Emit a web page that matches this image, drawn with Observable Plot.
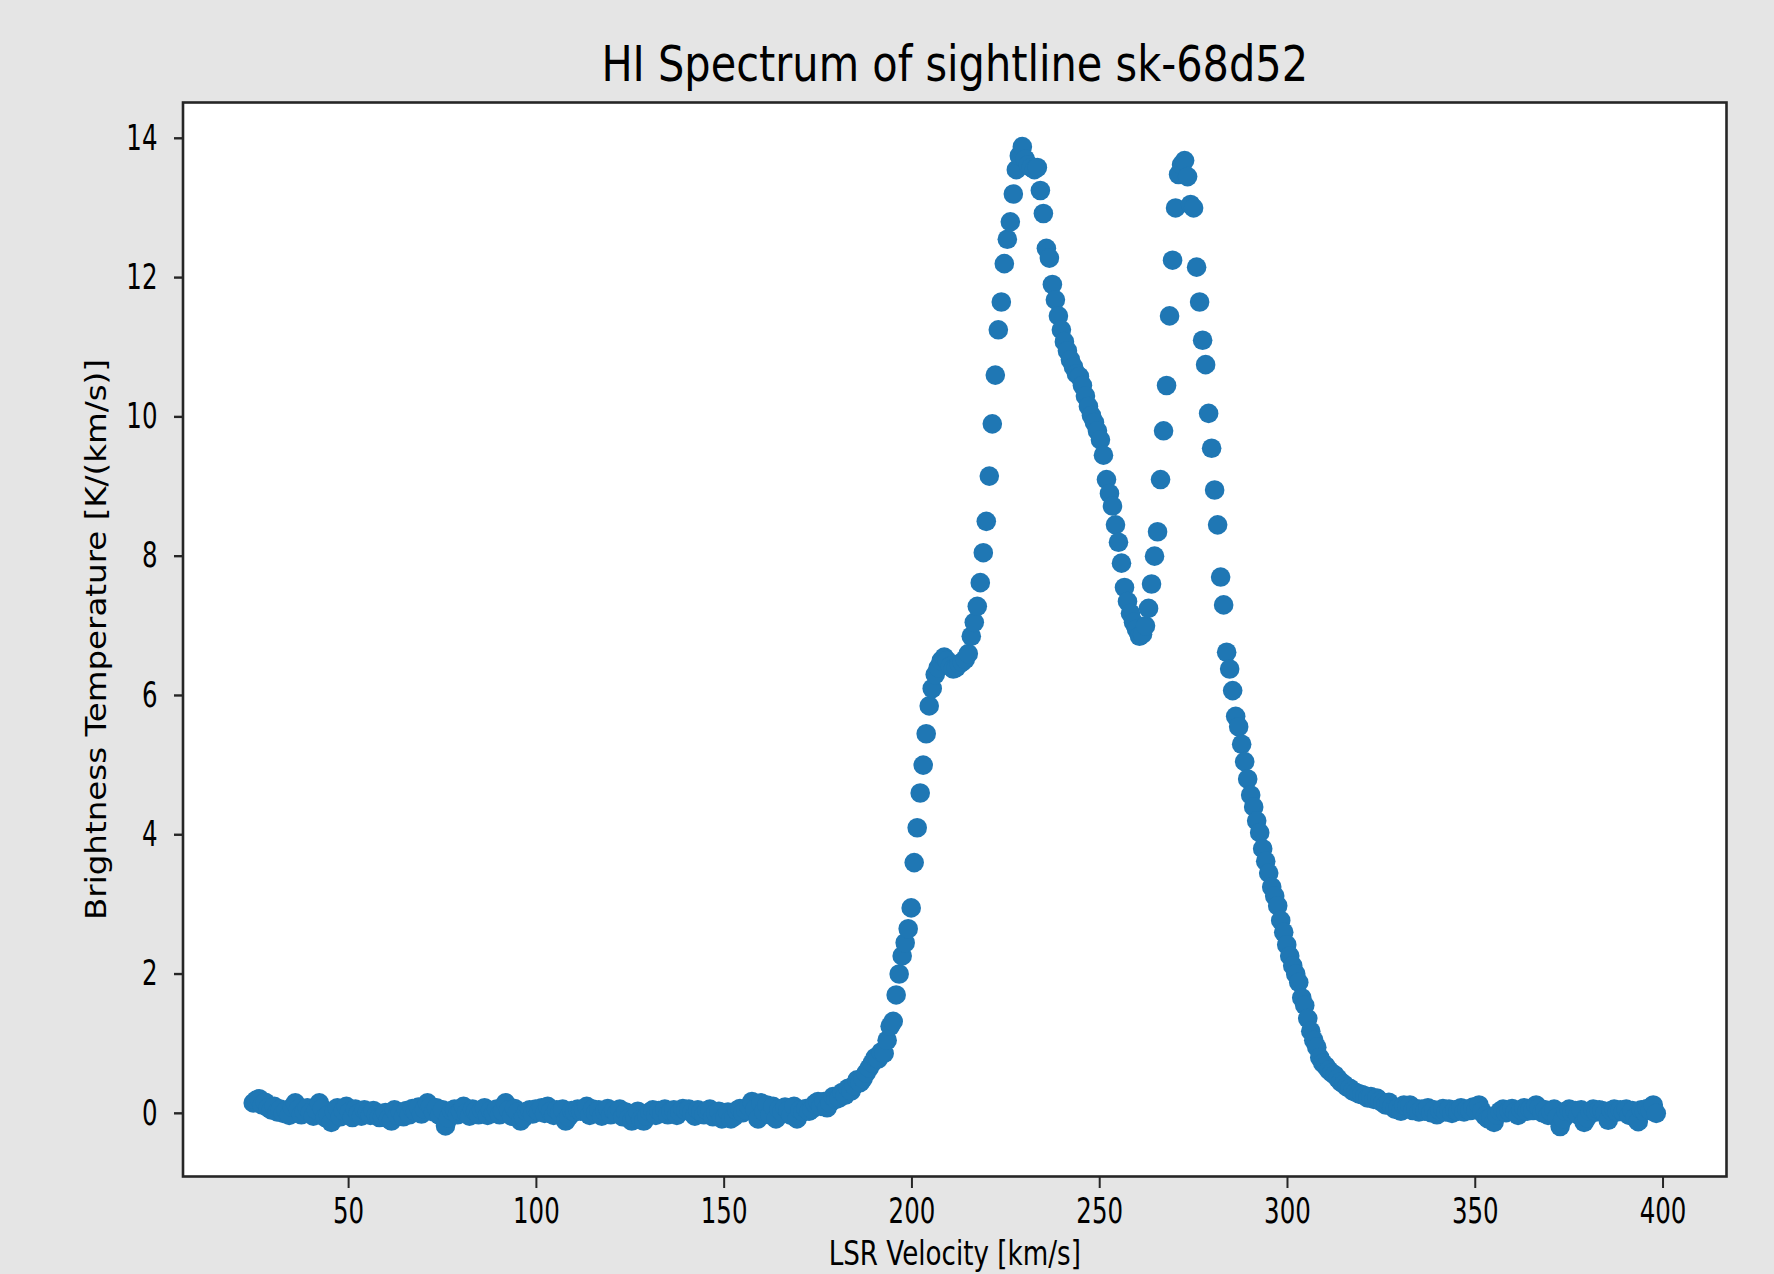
<!DOCTYPE html>
<html>
<head>
<meta charset="utf-8">
<script src="https://cdn.jsdelivr.net/npm/d3@7"></script>
<script src="https://cdn.jsdelivr.net/npm/@observablehq/plot@0.6"></script>
<style>
  html, body { margin: 0; padding: 0; background: #e5e5e5; }
  #chart svg { display: block; }
</style>
</head>
<body>
<div id="chart"></div>
<script>
// ---- Data ----
const titleText = "HI Spectrum of sightline sk-68d52";
const xLabel = "LSR Velocity [km/s]";
const yLabel = "Brightness Temperature [K/(km/s)]";
const xTicks = [50, 100, 150, 200, 250, 300, 350, 400];
const yTicks = [0, 2, 4, 6, 8, 10, 12, 14];
const xDomain = [5.9, 416.9];
const yDomain = [-0.907, 14.514];

// LSR velocity of each channel (km/s)
const velocity = [
24.6,25.4,26.2,27.0,27.8, 28.6,29.4,30.2,31.0,31.8, 32.6,33.4,34.2,35.0,35.8, 36.6,37.4,38.2,39.0,39.8,
40.6,41.4,42.2,43.0,43.8, 44.6,45.4,46.2,47.0,47.8, 48.6,49.4,50.2,51.0,51.8, 52.6,53.4,54.2,55.0,55.8,
56.6,57.4,58.2,59.0,59.8, 60.6,61.4,62.2,63.0,63.8, 64.6,65.4,66.2,67.0,67.8, 68.6,69.4,70.2,71.0,71.8,
72.6,73.4,74.2,75.0,75.8, 76.6,77.4,78.2,79.0,79.8, 80.6,81.4,82.2,83.0,83.8, 84.6,85.4,86.2,87.0,87.8,
88.6,89.4,90.2,91.0,91.8, 92.6,93.4,94.2,95.0,95.8, 96.6,97.4,98.2,99.0,99.8, 100.6,101.4,102.2,103.0,103.8,
104.6,105.4,106.2,107.0,107.8, 108.6,109.4,110.2,111.0,111.8, 112.6,113.4,114.2,115.0,115.8, 116.6,117.4,118.2,119.0,119.8,
120.6,121.4,122.2,123.0,123.8, 124.6,125.4,126.2,127.0,127.8, 128.6,129.4,130.2,131.0,131.8, 132.6,133.4,134.2,135.0,135.8,
136.6,137.4,138.2,139.0,139.8, 140.6,141.4,142.2,143.0,143.8, 144.6,145.4,146.2,147.0,147.8, 148.6,149.4,150.2,151.0,151.8,
152.6,153.4,154.2,155.0,155.8, 156.6,157.4,158.2,159.0,159.8, 160.6,161.4,162.2,163.0,163.8, 164.6,165.4,166.2,167.0,167.8,
168.6,169.4,170.2,171.0,171.8, 172.6,173.4,174.2,175.0,175.8, 176.6,177.4,178.2,179.0,179.8, 180.6,181.4,182.2,183.0,183.8,
184.6,185.4,186.2,187.0,187.8, 188.6,189.4,190.2,191.0,191.8, 192.6,193.4,194.2,195.0,195.8, 196.6,197.4,198.2,199.0,199.8,
200.6,201.4,202.2,203.0,203.8, 204.6,205.4,206.2,207.0,207.8, 208.6,209.4,210.2,211.0,211.8, 212.6,213.4,214.2,215.0,215.8,
216.6,217.4,218.2,219.0,219.8, 220.6,221.4,222.2,223.0,223.8, 224.6,225.4,226.2,227.0,227.8, 228.6,229.4,230.2,231.0,231.8,
232.6,233.4,234.2,235.0,235.8, 236.6,237.4,238.2,239.0,239.8, 240.6,241.4,242.2,243.0,243.8, 244.6,245.4,246.2,247.0,247.8,
248.6,249.4,250.2,251.0,251.8, 252.6,253.4,254.2,255.0,255.8, 256.6,257.4,258.2,259.0,259.8, 260.6,261.4,262.2,263.0,263.8,
264.6,265.4,266.2,267.0,267.8, 268.6,269.4,270.2,271.0,271.8, 272.6,273.4,274.2,275.0,275.8, 276.6,277.4,278.2,279.0,279.8,
280.6,281.4,282.2,283.0,283.8, 284.6,285.4,286.2,287.0,287.8, 288.6,289.4,290.2,291.0,291.8, 292.6,293.4,294.2,295.0,295.8,
296.6,297.4,298.2,299.0,299.8, 300.6,301.4,302.2,303.0,303.8, 304.6,305.4,306.2,307.0,307.8, 308.6,309.4,310.2,311.0,311.8,
312.6,313.4,314.2,315.0,315.8, 316.6,317.4,318.2,319.0,319.8, 320.6,321.4,322.2,323.0,323.8, 324.6,325.4,326.2,327.0,327.8,
328.6,329.4,330.2,331.0,331.8, 332.6,333.4,334.2,335.0,335.8, 336.6,337.4,338.2,339.0,339.8, 340.6,341.4,342.2,343.0,343.8,
344.6,345.4,346.2,347.0,347.8, 348.6,349.4,350.2,351.0,351.8, 352.6,353.4,354.2,355.0,355.8, 356.6,357.4,358.2,359.0,359.8,
360.6,361.4,362.2,363.0,363.8, 364.6,365.4,366.2,367.0,367.8, 368.6,369.4,370.2,371.0,371.8, 372.6,373.4,374.2,375.0,375.8,
376.6,377.4,378.2,379.0,379.8, 380.6,381.4,382.2,383.0,383.8, 384.6,385.4,386.2,387.0,387.8, 388.6,389.4,390.2,391.0,391.8,
392.6,393.4,394.2,395.0,395.8, 396.6,397.4,398.2
];

// Brightness temperature of each channel
const brightness = [
0.15,0.19,0.21,0.12,0.16, 0.08,0.05,0.10,0.02,0.06, 0.00,0.04,-0.03,0.09,0.15, 0.06,-0.02,0.03,0.08,0.01,
-0.04,0.05,0.15,0.07,-0.06, -0.02,-0.13,0.03,0.08,-0.05, 0.04,0.10,0.02,-0.06,0.06, 0.00,-0.04,0.05,0.02,-0.03,
0.04,-0.02,-0.06,-0.05,0.01, -0.08,-0.11,0.05,-0.03,0.02, -0.05,0.04,-0.02,0.07,0.03, 0.09,-0.01,0.06,0.15,0.10,
0.02,0.08,-0.03,0.05,-0.18, -0.07,0.04,0.06,-0.02,0.03, 0.10,0.01,-0.04,0.06,0.03, -0.02,0.05,0.08,-0.03,0.04,
0.00,0.06,-0.02,0.03,0.15, 0.05,-0.04,0.07,0.02,-0.11, -0.06,0.03,0.05,-0.01,0.06, 0.02,0.08,0.00,0.10,0.03,
-0.03,0.05,0.01,0.06,-0.11, -0.05,0.04,0.02,0.06,0.03, 0.04,0.10,-0.03,0.06,0.01, 0.05,-0.04,0.03,0.07,-0.02,
0.04,0.00,0.06,-0.05,0.02, -0.07,-0.11,-0.06,0.03,-0.09, -0.11,-0.04,0.02,0.05,-0.03, 0.04,0.00,0.06,-0.02,0.03,
0.05,-0.03,0.02,0.07,0.04, 0.06,0.01,-0.04,0.05,0.02, -0.02,0.04,0.06,-0.05,0.01, 0.03,-0.08,-0.06,0.02,-0.08,
-0.05,0.04,0.07,0.01,0.05, 0.10,0.17,0.06,-0.08,0.15, 0.03,0.12,-0.02,0.10,-0.08, 0.06,0.02,0.09,0.04,-0.03,
0.10,-0.08,0.05,0.02,0.07, 0.03,0.06,0.14,0.17,0.10, 0.17,0.08,0.15,0.24,0.20, 0.22,0.30,0.26,0.36,0.32,
0.40,0.48,0.44,0.50,0.58, 0.65,0.72,0.80,0.78,0.88, 0.86,1.05,1.25,1.32,1.70, 2.00,2.26,2.45,2.65,2.95,
3.60,4.10,4.60,5.00,5.45, 5.85,6.10,6.30,6.40,6.50, 6.55,6.50,6.42,6.38,6.40, 6.45,6.48,6.52,6.60,6.85,
7.05,7.28,7.62,8.05,8.50, 9.15,9.90,10.60,11.25,11.65, 12.20,12.55,12.80,13.20,13.55, 13.75,13.88,13.70,13.62,13.58,
13.55,13.58,13.25,12.92,12.42, 12.28,11.90,11.68,11.45,11.25, 11.08,10.95,10.82,10.72,10.62, 10.58,10.45,10.30,10.15,10.02,
9.92,9.80,9.67,9.45,9.10, 8.90,8.72,8.45,8.20,7.90, 7.55,7.35,7.18,7.05,6.95, 6.85,6.88,7.00,7.25,7.60,
8.00,8.35,9.10,9.80,10.45, 11.45,12.25,13.00,13.48,13.62, 13.68,13.45,13.05,13.00,12.15, 11.65,11.10,10.75,10.05,9.55,
8.95,8.45,7.70,7.30,6.62, 6.38,6.07,5.70,5.55,5.30, 5.05,4.80,4.57,4.40,4.20, 4.03,3.80,3.62,3.45,3.25,
3.12,2.98,2.77,2.60,2.42, 2.26,2.12,2.00,1.88,1.66, 1.55,1.36,1.18,1.05,0.95, 0.80,0.72,0.68,0.62,0.58,
0.55,0.50,0.45,0.42,0.38, 0.36,0.32,0.30,0.28,0.27, 0.25,0.22,0.24,0.20,0.22, 0.18,0.15,0.12,0.16,0.10,
0.06,0.08,0.03,0.12,0.10, 0.12,0.04,0.07,0.02,0.06, 0.03,0.08,0.01,0.05,-0.02, 0.04,0.07,0.02,0.06,0.00,
0.05,0.03,0.08,0.02,0.06, 0.04,0.09,0.05,0.12,0.03, -0.04,-0.08,-0.06,-0.13,-0.02, 0.03,0.06,0.01,0.04,0.07,
0.02,-0.03,0.05,0.08,0.03, 0.06,0.04,0.12,0.08,0.01, 0.05,-0.03,0.02,0.06,-0.06, -0.19,-0.08,0.03,0.06,0.01,
0.04,-0.02,0.05,-0.13,-0.06, 0.03,0.06,0.02,0.05,0.04, 0.01,-0.10,0.04,0.06,0.02, 0.05,0.02,0.06,-0.03,0.04,
-0.06,-0.12,0.05,0.03,0.07, 0.04,0.12,0.00
];

if (velocity.length !== brightness.length) console.error("length mismatch", velocity.length, brightness.length);
const n = Math.min(velocity.length, brightness.length);
const spectrum = d3.range(n).map(i => ({v: velocity[i], t: brightness[i]}));

const ink = "#262626";
const blue = "#1f77b4";

const chart = Plot.plot({
  width: 1774,
  height: 1274,
  marginLeft: 182.5,
  marginRight: 48,
  marginTop: 102,
  marginBottom: 98,
  style: {background: "#e5e5e5", fontFamily: "DejaVu Sans", color: "black"},
  x: {domain: xDomain},
  y: {domain: yDomain},
  marks: [
    Plot.frame({fill: "white"}),
    Plot.dot(spectrum, {x: "v", y: "t", r: 9.8, fill: blue, stroke: "none"}),
    Plot.frame({stroke: ink, strokeWidth: 2.6}),
    Plot.axisX({ticks: xTicks, tickSize: 12, tickPadding: 10, fontSize: 35, stroke: ink, strokeWidth: 2, label: null, tickFormat: d => String(d)}),
    Plot.axisY({ticks: yTicks, tickSize: 8.5, tickPadding: 17, fontSize: 35, stroke: ink, strokeWidth: 2.4, label: null, tickFormat: d => String(d)}),
    Plot.text([titleText], {text: d => d, frameAnchor: "top", dy: -22, lineAnchor: "bottom", textAnchor: "middle", fontSize: 50, fill: "black"}),
    Plot.text([xLabel], {text: d => d, frameAnchor: "bottom", dy: 64, lineAnchor: "top", textAnchor: "middle", fontSize: 34, fill: "black"}),
    Plot.text([yLabel], {text: d => d, frameAnchor: "left", dx: -77.5, rotate: -90, lineAnchor: "bottom", textAnchor: "middle", fontSize: 32.5, fill: "black"})
  ]
});

document.getElementById("chart").appendChild(chart);

// Narrow the glyphs (the reference uses a condensed-looking face)
function squashText(t, sx, sy) {
  const tr = t.getAttribute("transform") || "";
  t.setAttribute("transform", tr + ` scale(${sx},${sy})`);
}
const xTickText = new Set(xTicks.map(String));
const yTickText = new Set(yTicks.map(String));
chart.querySelectorAll('g[aria-label="x-axis tick label"] text').forEach(t => squashText(t, 0.70, 1));
chart.querySelectorAll('g[aria-label="y-axis tick label"] text').forEach(t => squashText(t, 0.70, 1));
chart.querySelectorAll("text").forEach(t => {
  const s = t.textContent;
  if (s === titleText) squashText(t, 0.83, 1);
  else if (s === xLabel) squashText(t, 0.77, 1);
  else if (s === yLabel) squashText(t, 1, 0.85);
});
</script>
</body>
</html>
